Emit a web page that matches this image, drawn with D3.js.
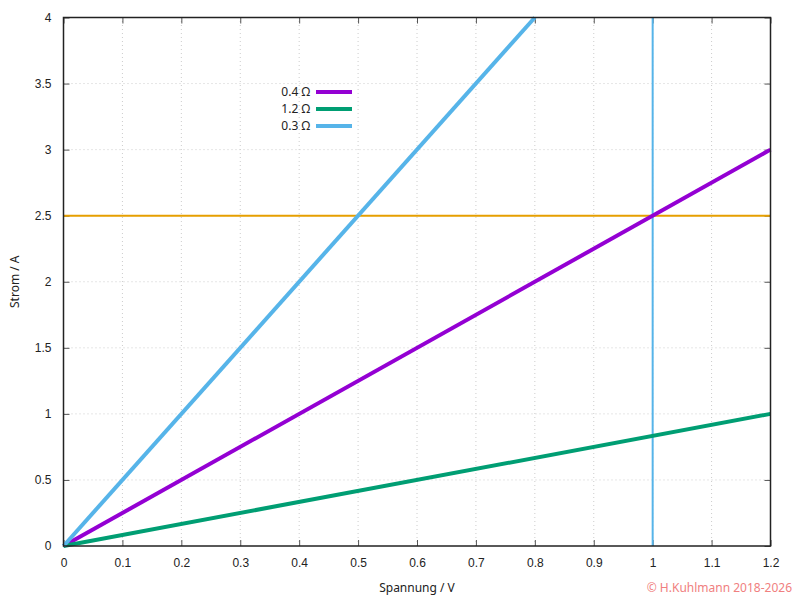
<!DOCTYPE html>
<html>
<head>
<meta charset="utf-8">
<script src="https://cdn.jsdelivr.net/npm/d3@7"></script>
<style>
  body { margin: 0; background: #fff; }
  svg { display: block; font-family: "Noto Sans", "DejaVu Sans", sans-serif; }
</style>
</head>
<body>
<div id="chart"></div>
<script>
// resistors and their end points (U in V, I in A)
var labels = ["0.4 Ω", "1.2 Ω", "0.3 Ω"];
var colors = ["#9400d3", "#009e73", "#56b4e9"];
var uEnd = [1.2, 1.2, 0.8];
var iEnd = [3, 1, 4];

var xTicks = [0, 0.1, 0.2, 0.3, 0.4, 0.5, 0.6, 0.7, 0.8, 0.9, 1, 1.1, 1.2];
var yTicks = [0, 0.5, 1, 1.5, 2, 2.5, 3, 3.5, 4];

var hLine = 2.5;   // orange marker
var vLine = 1;     // blue marker

var width = 800, height = 600;
var margin = { left: 63.5, right: 29.5, top: 17.5, bottom: 54 };

var x = d3.scaleLinear().domain([0, 1.2]).range([margin.left, width - margin.right]);
var y = d3.scaleLinear().domain([0, 4]).range([height - margin.bottom, margin.top]);

var svg = d3.select("#chart").append("svg")
    .attr("width", width)
    .attr("height", height);

// grid
svg.append("g").selectAll("line")
    .data(xTicks.slice(1, -1))
    .enter().append("line")
    .attr("x1", function(d) { return x(d); })
    .attr("x2", function(d) { return x(d); })
    .attr("y1", y(0)).attr("y2", y(4))
    .attr("stroke", "#ccc").attr("stroke-dasharray", "1,3");
svg.append("g").selectAll("line")
    .data(yTicks.slice(1, -1))
    .enter().append("line")
    .attr("y1", function(d) { return y(d); })
    .attr("y2", function(d) { return y(d); })
    .attr("x1", x(0)).attr("x2", x(1.2))
    .attr("stroke", "#ccc").attr("stroke-dasharray", "1,3");

// axes: ticks inward, mirrored
function styleAxis(g) {
  g.select(".domain").remove();
  g.selectAll(".tick line").attr("stroke", "#555");
  g.selectAll(".tick text").attr("fill", "#222").style("font-size", "12px");
}

svg.append("g")
    .attr("transform", "translate(0," + y(0) + ")")
    .call(d3.axisBottom(x).tickValues(xTicks).tickFormat(d3.format("")).tickSizeInner(-6).tickPadding(12))
    .call(styleAxis);
svg.append("g")
    .attr("transform", "translate(0," + y(4) + ")")
    .call(d3.axisTop(x).tickValues(xTicks).tickFormat("").tickSizeInner(-6))
    .call(styleAxis);
svg.append("g")
    .attr("transform", "translate(" + x(0) + ",0)")
    .call(d3.axisLeft(y).tickValues(yTicks).tickFormat(d3.format("")).tickSizeInner(-6).tickPadding(12))
    .call(styleAxis);
svg.append("g")
    .attr("transform", "translate(" + x(1.2) + ",0)")
    .call(d3.axisRight(y).tickValues(yTicks).tickFormat("").tickSizeInner(-6))
    .call(styleAxis);

// marker lines
svg.append("line")
    .attr("x1", x(0)).attr("x2", x(1.2))
    .attr("y1", y(hLine)).attr("y2", y(hLine))
    .attr("stroke", "#e69f00").attr("stroke-width", 2);
svg.append("line")
    .attr("x1", x(vLine)).attr("x2", x(vLine))
    .attr("y1", y(0)).attr("y2", y(4))
    .attr("stroke", "#56b4e9").attr("stroke-width", 2);

// characteristic lines
var line = d3.line()
    .x(function(d) { return x(d[0]); })
    .y(function(d) { return y(d[1]); });

labels.forEach(function(l, i) {
  svg.append("path")
      .datum([[0, 0], [uEnd[i], iEnd[i]]])
      .attr("d", line)
      .attr("fill", "none")
      .attr("stroke", colors[i])
      .attr("stroke-width", 4);
});

// frame
svg.append("rect")
    .attr("x", x(0)).attr("y", y(4))
    .attr("width", x(1.2) - x(0)).attr("height", y(0) - y(4))
    .attr("fill", "none").attr("stroke", "#222").attr("stroke-width", 1.5);

// legend
var legend = svg.append("g").attr("transform", "translate(310,92)");
labels.forEach(function(l, i) {
  var row = legend.append("g").attr("transform", "translate(0," + i * 17 + ")");
  row.append("text")
      .attr("text-anchor", "end")
      .attr("dy", "0.35em")
      .style("font-size", "12px")
      .attr("fill", "#222")
      .text(l);
  row.append("line")
      .attr("x1", 6).attr("x2", 42)
      .attr("stroke", colors[i]).attr("stroke-width", 4);
});

// axis titles
svg.append("text")
    .attr("x", (x(0) + x(1.2)) / 2).attr("y", 592)
    .attr("text-anchor", "middle")
    .style("font-size", "12px").attr("fill", "#222")
    .text("Spannung / V");
svg.append("text")
    .attr("transform", "translate(19," + (y(0) + y(4)) / 2 + ") rotate(-90)")
    .attr("text-anchor", "middle")
    .style("font-size", "12px").attr("fill", "#222")
    .text("Strom / A");

svg.append("text")
    .attr("x", 792).attr("y", 592)
    .attr("text-anchor", "end")
    .style("font-size", "12px").attr("fill", "#f08080")
    .text("© H.Kuhlmann 2018-2026");
</script>
</body>
</html>
